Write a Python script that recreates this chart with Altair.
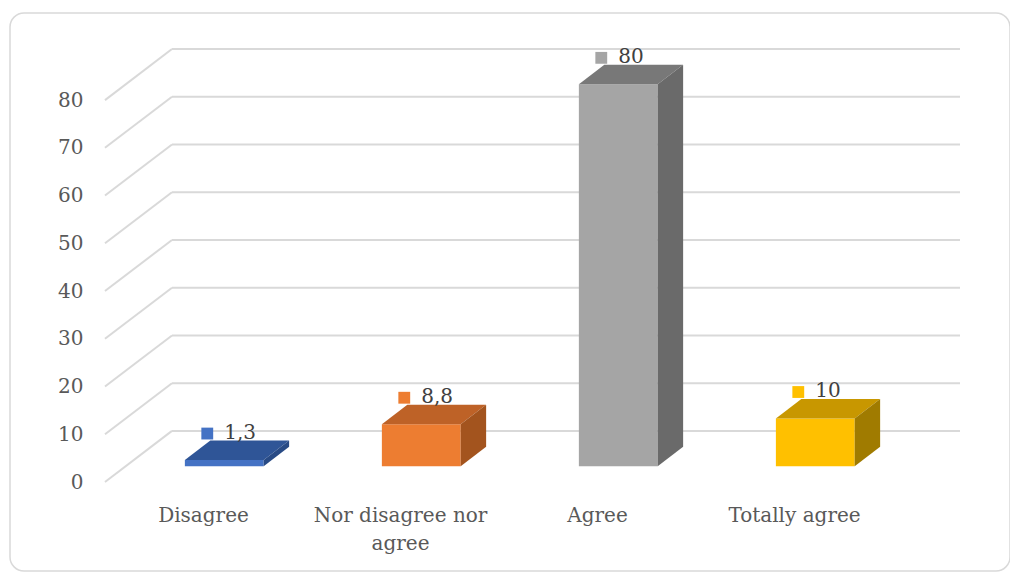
import altair as alt
import pandas as pd

# ---- data -------------------------------------------------------------
categories = ["Disagree", "Nor disagree nor\nagree", "Agree", "Totally agree"]
values = [1.3, 8.8, 80, 10]
value_labels = ["1,3", "8,8", "80", "10"]
y_ticks = [0, 10, 20, 30, 40, 50, 60, 70, 80]

front_colors = ["#4472C4", "#ED7D31", "#A5A5A5", "#FFC000"]
top_colors = ["#2F5597", "#BE6227", "#787878", "#C89700"]
side_colors = ["#284A85", "#A3541E", "#6A6A6A", "#A07B00"]

# ---- 3-D projection settings (in data units of the front plane) -------
DEPTH_X = 0.34      # horizontal shift of the back wall, in category units
DEPTH_Y = 10.7      # vertical shift of the back wall, in value units
FRONT_F = 0.31      # depth fraction of the columns' front faces
BACK_F = 0.69       # depth fraction of the columns' back faces
HALF_W = 0.20       # half of the column width, in category units
N = len(categories)

FONT = "DejaVu Serif"
FONT_SIZE = 20

x_scale = alt.Scale(domain=[0, N + DEPTH_X], nice=False, zero=False)
y_scale = alt.Scale(domain=[0, 80 + DEPTH_Y], nice=False, zero=False)

# gridlines: diagonal on the side wall and horizontal on the back wall
grid = pd.DataFrame({"t": y_ticks})
grid["x0"] = 0.0
grid["x1"] = DEPTH_X
grid["x2"] = N + DEPTH_X
grid["yb"] = grid["t"] + DEPTH_Y

diag = alt.Chart(grid).mark_rule(color="#D9D9D9", strokeWidth=2).encode(
    x=alt.X("x0:Q", scale=x_scale, axis=None),
    x2="x1:Q",
    y=alt.Y("t:Q", scale=y_scale,
            axis=alt.Axis(values=y_ticks, domain=False, ticks=False, grid=False,
                          labelFont=FONT, labelFontSize=FONT_SIZE, labelColor="#595959",
                          labelPadding=22, title=None)),
    y2="yb:Q",
)
back = alt.Chart(grid).mark_rule(color="#D9D9D9", strokeWidth=2).encode(
    x=alt.X("x1:Q", scale=x_scale),
    x2="x2:Q",
    y=alt.Y("yb:Q", scale=y_scale),
)

# column geometry
rows = []
for i, (c, v) in enumerate(zip(categories, values)):
    cx = i + 0.5
    rows.append({
        "cat": c, "value": v, "label": value_labels[i], "cx": cx,
        "front": front_colors[i], "top": top_colors[i], "side": side_colors[i],
        "fl": cx - HALF_W + FRONT_F * DEPTH_X, "fr": cx + HALF_W + FRONT_F * DEPTH_X,
        "bl": cx - HALF_W + BACK_F * DEPTH_X, "br": cx + HALF_W + BACK_F * DEPTH_X,
        "f0": FRONT_F * DEPTH_Y, "fv": v + FRONT_F * DEPTH_Y,
        "b0": BACK_F * DEPTH_Y, "bv": v + BACK_F * DEPTH_Y,
        "fc": cx + FRONT_F * DEPTH_X,
    })
cols = pd.DataFrame(rows)

front = alt.Chart(cols).mark_rect().encode(
    x=alt.X("fl:Q", scale=x_scale), x2="fr:Q",
    y=alt.Y("f0:Q", scale=y_scale), y2="fv:Q",
    color=alt.Color("front:N", scale=None),
)

# top faces (horizontal-edged parallelograms) and side faces (vertical-edged)
top_rows = []
side_rows = []
for r in rows:
    top_rows.append({"cat": r["cat"], "col": r["top"], "y": r["fv"], "xa": r["fl"], "xb": r["fr"]})
    top_rows.append({"cat": r["cat"], "col": r["top"], "y": r["bv"], "xa": r["bl"], "xb": r["br"]})
    side_rows.append({"cat": r["cat"], "col": r["side"], "x": r["fr"], "ya": r["f0"], "yb": r["fv"]})
    side_rows.append({"cat": r["cat"], "col": r["side"], "x": r["br"], "ya": r["b0"], "yb": r["bv"]})

top = alt.Chart(pd.DataFrame(top_rows)).mark_area(orient="horizontal").encode(
    y=alt.Y("y:Q", scale=y_scale),
    x=alt.X("xa:Q", scale=x_scale), x2="xb:Q",
    color=alt.Color("col:N", scale=None),
    detail="cat:N",
)
side = alt.Chart(pd.DataFrame(side_rows)).mark_area(orient="vertical").encode(
    x=alt.X("x:Q", scale=x_scale),
    y=alt.Y("ya:Q", scale=y_scale), y2="yb:Q",
    color=alt.Color("col:N", scale=None),
    detail="cat:N",
)

# data labels: a colour key square plus the value
keys = alt.Chart(cols).mark_point(shape="square", filled=True, size=140, opacity=1,
                                  xOffset=-17, yOffset=-7).encode(
    x=alt.X("fc:Q", scale=x_scale),
    y=alt.Y("bv:Q", scale=y_scale),
    color=alt.Color("front:N", scale=None),
)
vals = alt.Chart(cols).mark_text(align="left", baseline="middle", dx=0, dy=-8,
                                 font=FONT, fontSize=FONT_SIZE, color="#404040").encode(
    x=alt.X("fc:Q", scale=x_scale),
    y=alt.Y("bv:Q", scale=y_scale),
    text="label:N",
)

# category labels under the front edge
cat_df = pd.DataFrame({"cat": categories, "cx": [i + 0.5 for i in range(N)], "base": 0.0})
cats = alt.Chart(cat_df).mark_text(align="center", baseline="alphabetic", dy=40,
                                   lineBreak="\n", lineHeight=28,
                                   font=FONT, fontSize=FONT_SIZE, color="#595959").encode(
    x=alt.X("cx:Q", scale=x_scale),
    y=alt.Y("base:Q", scale=y_scale),
    text="cat:N",
)

# rounded outer frame
frame = alt.Chart(pd.DataFrame({"k": [0]})).mark_rect(
    fill=None, stroke="#D9D9D9", strokeWidth=1.5, cornerRadius=14, clip=False
).encode(
    x=alt.value(-95), x2=alt.value(905),
    y=alt.value(-36), y2=alt.value(522),
)

chart = alt.layer(frame, diag, back, front, top, side, keys, vals, cats).properties(
    width=855, height=433,
    autosize=alt.AutoSizeParams(type="none"),
    padding={"left": 105, "top": 49, "right": 50, "bottom": 90},
    background="white",
).configure_view(stroke=None)

chart.save("out.html", embed_options={"renderer": "svg", "actions": False})
